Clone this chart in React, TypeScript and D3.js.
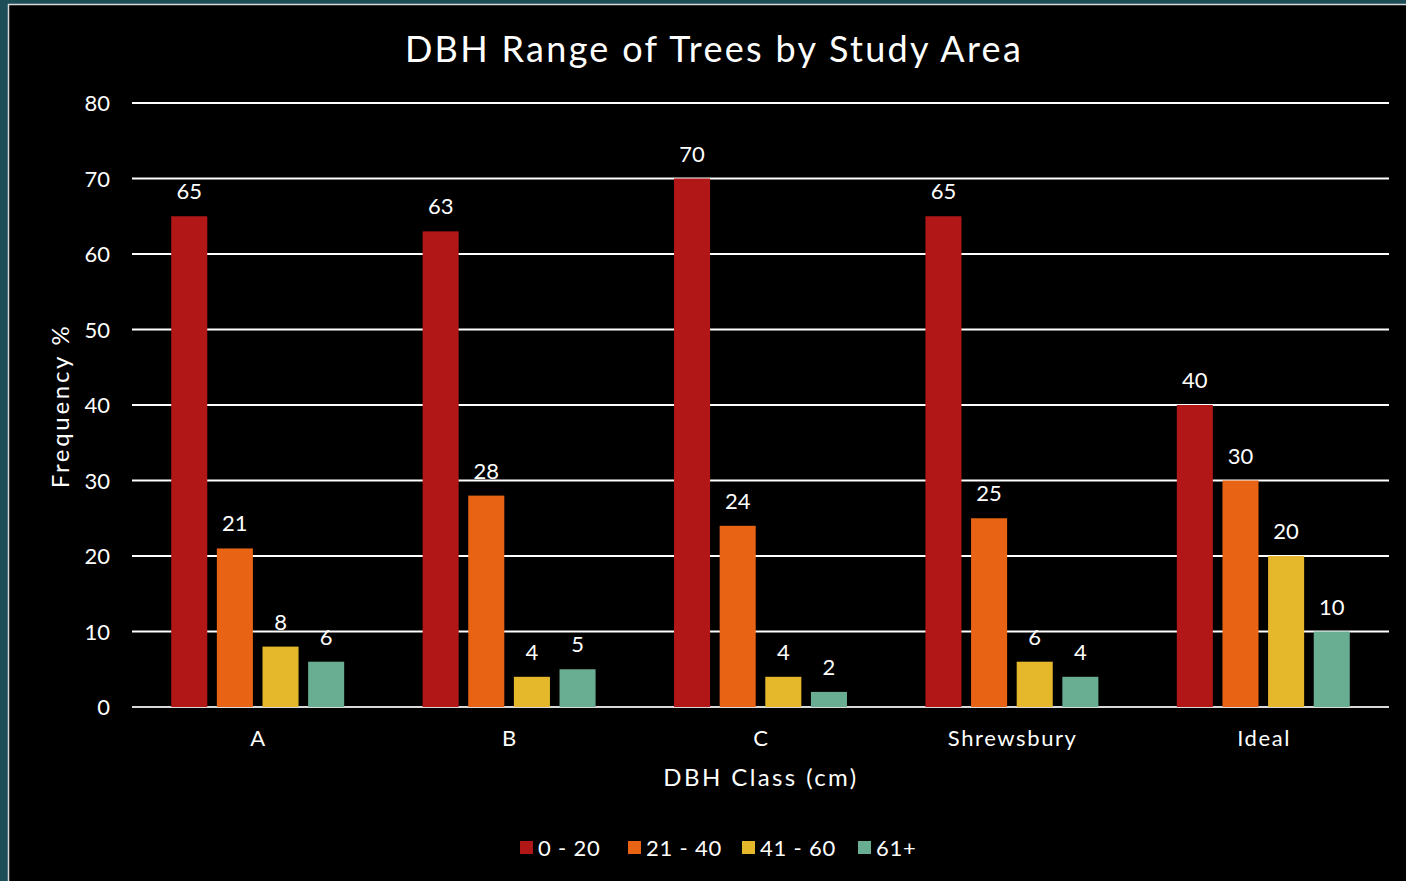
import React from "react";
import * as d3 from "d3";

const categories = ["A", "B", "C", "Shrewsbury", "Ideal"];
const seriesNames = ["0 - 20", "21 - 40", "41 - 60", "61+"];
const s0_20 = [65, 63, 70, 65, 40];
const s21_40 = [21, 28, 24, 25, 30];
const s41_60 = [8, 4, 4, 6, 20];
const s61 = [6, 5, 2, 4, 10];
const seriesValues = [s0_20, s21_40, s41_60, s61];
const colors = ["#b01716", "#e86414", "#e5b82c", "#69ad93"];
const yTicks = [0, 10, 20, 30, 40, 50, 60, 70, 80];

const W = 1406, H = 881;
const FONT = "'Lato', 'Open Sans', sans-serif";

export default function App() {
  const x0 = d3.scaleBand().domain(categories).range([132, 1389]).paddingInner(0.312).paddingOuter(0.156);
  const x1 = d3.scaleBand().domain(seriesNames).range([0, x0.bandwidth()]).paddingInner(0.21);
  const y = d3.scaleLinear().domain([0, 80]).range([707, 103]);

  return (
    <svg width={W} height={H} style={{ position: "absolute", left: 0, top: 0 }} fontFamily={FONT}>
      <rect x={0} y={0} width={W} height={H} fill="#1d4e57" />
      <rect x={8.5} y={4.5} width={W + 10} height={H + 10} fill="#000" stroke="#d8d8d8" strokeWidth={1.5} />
      <text x={714} y={62} textAnchor="middle" fill="#fff" fontSize={36} letterSpacing={2.3}>DBH Range of Trees by Study Area</text>
      {yTicks.map((t) => (
        <g key={t}>
          <line x1={132} x2={1389} y1={y(t)} y2={y(t)} stroke={t === 0 ? "#d9d9d9" : "#fff"} strokeWidth={2} />
          <text x={110} y={y(t) + 8} textAnchor="end" fill="#fff" fontSize={22}>{t}</text>
        </g>
      ))}
      {categories.map((c, ci) => (
        <g key={c}>
          {seriesNames.map((s, si) => {
            const v = seriesValues[si][ci];
            const bx = (x0(c) as number) + (x1(s) as number);
            const bw = x1.bandwidth();
            return (
              <g key={s}>
                <rect x={bx} y={y(v)} width={bw} height={y(0) - y(v)} fill={colors[si]} />
                <text x={bx + bw / 2} y={y(v) - 17} textAnchor="middle" fill="#fff" fontSize={22}>{v}</text>
              </g>
            );
          })}
          <text x={(x0(c) as number) + x0.bandwidth() / 2 + 0.8} y={746} textAnchor="middle" fill="#fff" fontSize={22} letterSpacing={1.6}>{c}</text>
        </g>
      ))}
      <text x={761} y={786} textAnchor="middle" fill="#fff" fontSize={24} letterSpacing={2.4}>DBH Class (cm)</text>
      <text transform="translate(69,406) rotate(-90)" textAnchor="middle" fill="#fff" fontSize={24} letterSpacing={2.7}>Frequency %</text>
      {seriesNames.map((s, i) => {
        const lx = [520, 628, 742, 858][i];
        return (
          <g key={s}>
            <rect x={lx} y={841} width={13} height={13} fill={colors[i]} />
            <text x={lx + 18} y={856} fill="#fff" fontSize={22} letterSpacing={0.8}>{s}</text>
          </g>
        );
      })}
    </svg>
  );
}
